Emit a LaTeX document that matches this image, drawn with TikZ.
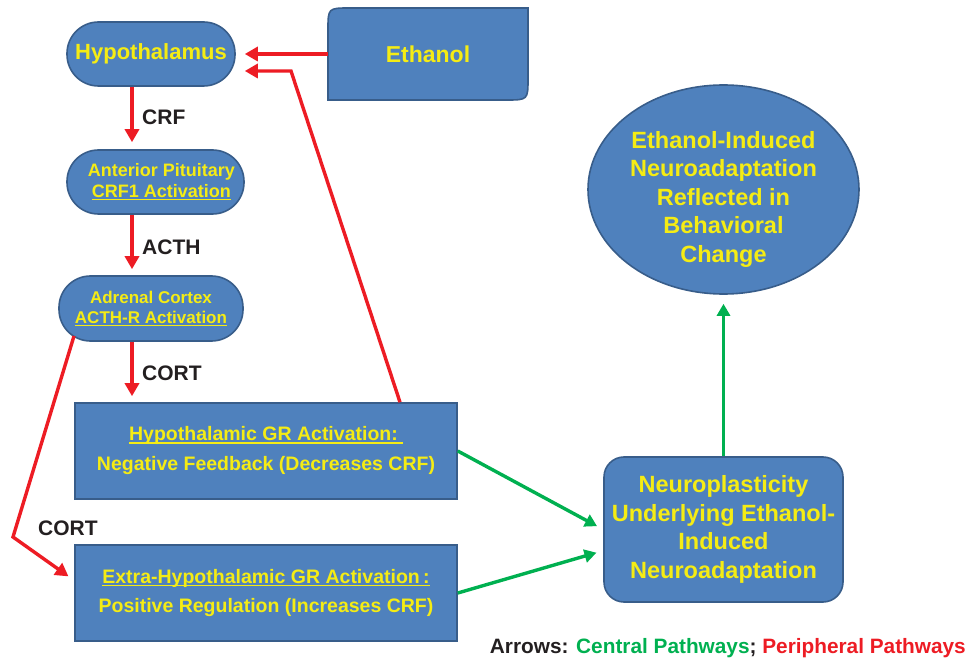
\documentclass[tikz,border=0pt]{standalone}
\usepackage{fontspec}
\setmainfont{Liberation Sans}
\usetikzlibrary{arrows.meta,shapes.geometric}
\definecolor{boxblue}{RGB}{79,129,189}
\definecolor{boxedge}{RGB}{56,93,138}
\definecolor{txtyellow}{RGB}{245,236,20}
\definecolor{perired}{RGB}{237,28,36}
\definecolor{centgreen}{RGB}{0,176,80}
\definecolor{lblblack}{RGB}{35,31,32}
\newcommand{\yul}[1]{\setbox0=\hbox{#1}\rlap{\rule[-2.6pt]{\wd0}{1.3pt}}\box0}

\begin{document}
\begin{tikzpicture}[x=1pt,y=1pt,yscale=-1,
  blkbox/.style={draw=boxedge,line width=1.6pt,fill=boxblue,text=txtyellow,align=center,inner sep=0pt},
  pill/.style={blkbox,rounded corners=31.5pt},
  redarrow/.style={draw=perired,line width=3.4pt,shorten >=7pt,-{Triangle[length=13pt,width=14pt]}},
  greenarrow/.style={draw=centgreen,line width=3.4pt,shorten >=7pt,-{Triangle[length=12pt,width=13pt]}},
  lbl/.style={text=lblblack,font=\fontsize{21}{25}\selectfont\bfseries,anchor=west,inner sep=0pt}]
\useasboundingbox (0,0) rectangle (970,663);

%Shape: Rounded Rect (HPA axis)
\node[pill,minimum width=168pt,minimum height=64pt,font=\fontsize{22}{26}\selectfont\bfseries] (hyp) at (151,54) {Hypothalamus};
\node[pill,minimum width=177pt,minimum height=64pt,font=\fontsize{18}{21}\selectfont\bfseries] (pit) at (155.5,182) {\hspace*{12pt}Anterior Pituitary\\\hspace*{12pt}\yul{CRF1 Activation}};
\node[pill,minimum width=184pt,minimum height=65pt,font=\fontsize{17}{20}\selectfont\bfseries] (adr) at (151,308.5) {Adrenal Cortex\\\yul{ACTH-R Activation}};

%Shape: Snip Rect (ethanol)
\filldraw[fill=boxblue,draw=boxedge,line width=1.6pt] (328,100) -- (328,30) .. controls (328,8) .. (350,8) -- (528,8) -- (528,78) .. controls (528,100) .. (506,100) -- cycle;
\node[text=txtyellow,minimum width=200pt,minimum height=92pt,inner sep=0pt,font=\fontsize{23}{27}\selectfont\bfseries] (eth) at (428,54) {Ethanol};

%Shape: Rectangle (GR activation)
\node[blkbox,minimum width=382pt,minimum height=96pt,font=\fontsize{19.5}{30}\selectfont\bfseries] (gr) at (266,451) {\yul{Hypothalamic GR Activation:\hspace{5pt}}\\Negative Feedback (Decreases CRF)};
\node[blkbox,minimum width=382pt,minimum height=96pt,font=\fontsize{19.5}{28.5}\selectfont\bfseries] (xgr) at (266,593) {\yul{Extra-Hypothalamic GR Activation\,:}\\Positive Regulation (Increases CRF)};

%Shape: Rounded Rect (neuroplasticity)
\node[blkbox,rounded corners=20pt,minimum width=239pt,minimum height=145pt,font=\fontsize{23.5}{28.5}\selectfont\bfseries] (neuro) at (723.5,529.5) {Neuroplasticity\\Underlying Ethanol-\\Induced\\Neuroadaptation};

%Shape: Ellipse (behaviour)
\node[blkbox,ellipse,minimum width=271pt,minimum height=209pt] (beh) at (723.5,189.5) {};
\node[text=txtyellow,align=center,inner sep=0pt,font=\fontsize{23.5}{28.5}\selectfont\bfseries] (behtxt) at (723.5,199) {Ethanol-Induced\\Neuroadaptation\\Reflected in\\Behavioral\\Change};

% Text Node
\node[lbl] (crf) at (142,117) {CRF};
% Text Node
\node[lbl] (acth) at (142,247) {ACTH};
% Text Node
\node[lbl] (cort) at (142,373) {CORT};
% Text Node
\node[lbl] (cortx) at (38,528) {CORT};
% Text Node
\node[anchor=east,inner sep=0pt,font=\fontsize{20.8}{25}\selectfont\bfseries] (legend) at (966,648) {\textcolor{lblblack}{Arrows:} \textcolor{centgreen}{Central Pathways}\textcolor{lblblack}{;} \textcolor{perired}{Peripheral Pathways}};

\coordinate (ax) at (132,0);
\coordinate (fbfoot) at (400,0);
\coordinate (fbknee) at (291,71);
\coordinate (cstart) at (74,336);
\coordinate (cknee) at (13,537);
\coordinate (cend) at (75,581);

%Straight Lines (peripheral)
\draw[redarrow,shorten >=9pt] (eth.west) -- (hyp.east);
\draw[redarrow] (hyp.south -| ax) -- (pit.north -| ax);
\draw[redarrow,shorten >=6pt] (pit.south -| ax) -- (adr.north -| ax);
\draw[redarrow,shorten >=6pt] (adr.south -| ax) -- (gr.north -| ax);
\draw[redarrow,shorten >=9pt] (gr.north -| fbfoot) -- (fbknee) -- (fbknee -| hyp.east);
\draw[redarrow,shorten >=8pt] (cstart) -- (cknee) -- (cend);

%Straight Lines (central)
\draw[greenarrow] (gr.east) -- (neuro.west);
\draw[greenarrow] (xgr.east) -- (neuro.190);
\draw[greenarrow,shorten >=9pt] (neuro.north) -- (beh.south);

\end{tikzpicture}
\end{document}
